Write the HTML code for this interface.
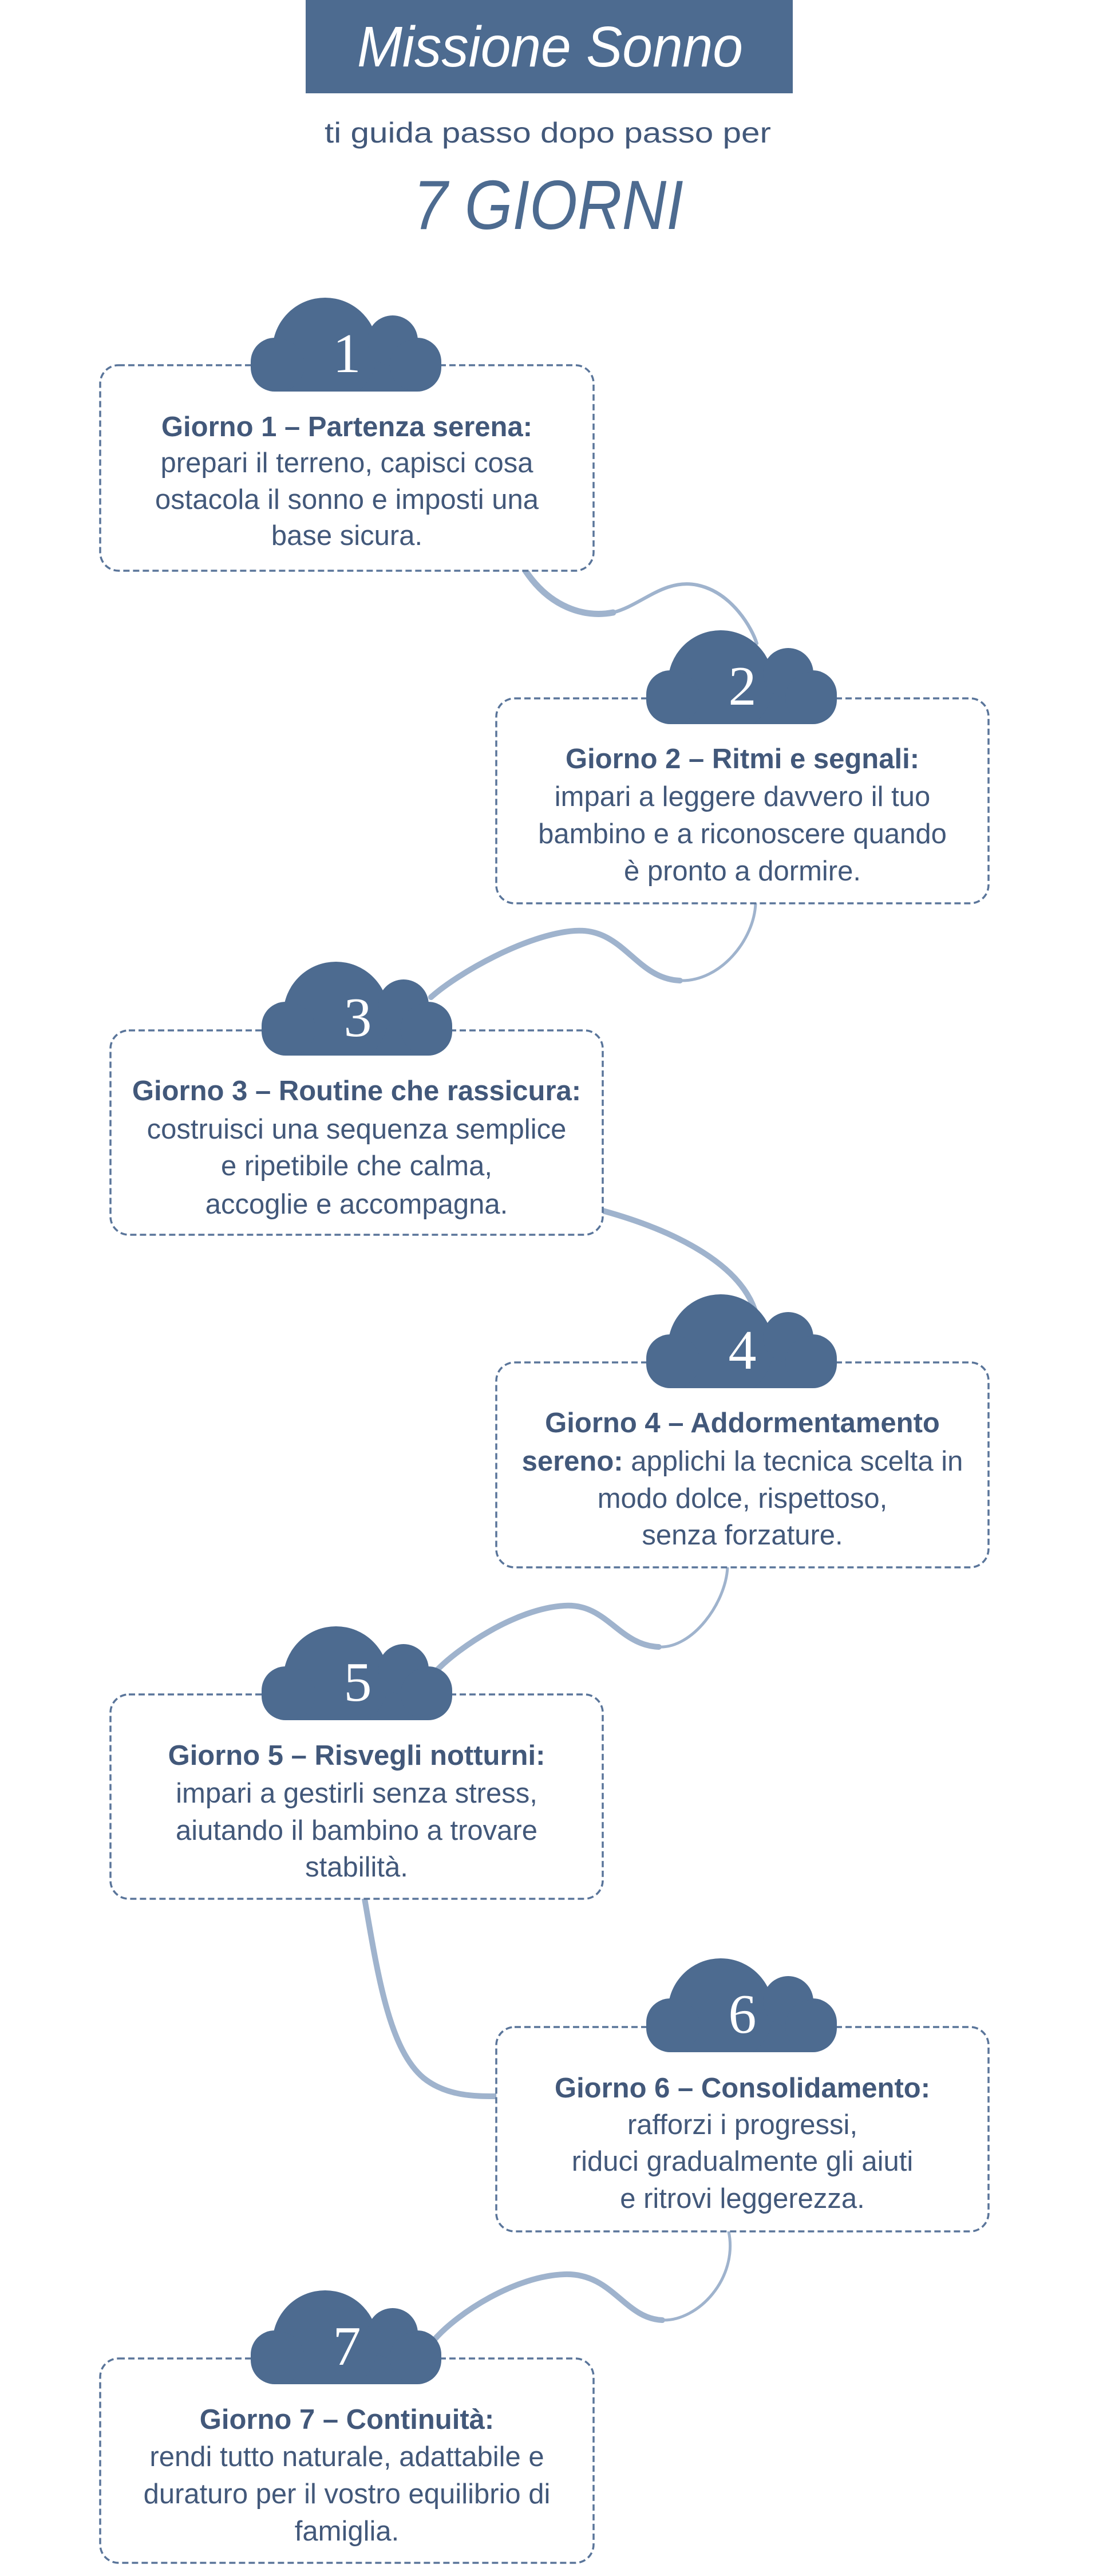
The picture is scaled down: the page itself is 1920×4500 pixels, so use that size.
<!DOCTYPE html>
<html><head><meta charset="utf-8"><style>
html,body{margin:0;padding:0;background:#fff;}
svg{display:block;}
.t{font-family:"Liberation Sans",sans-serif;font-size:49px;fill:#42587a;text-anchor:middle;}
.b{font-weight:bold;}
.n{font-family:"Liberation Serif",serif;font-size:98px;fill:#fff;text-anchor:middle;}
.c{fill:none;stroke:#9fb3cd;stroke-linecap:round;}
.card{fill:#fff;stroke:#5a759a;stroke-width:3.5;stroke-dasharray:11 6;}
</style></head><body>
<svg width="1920" height="4500" viewBox="0 0 1920 4500" xmlns="http://www.w3.org/2000/svg">
<defs>
<clipPath id="cc"><rect x="-5" y="-5" width="343" height="169"/></clipPath>
<g id="cloud" fill="#4d6b90" clip-path="url(#cc)">
<rect x="0" y="70" width="333" height="94" rx="42"/>
<circle cx="130" cy="92" r="92"/>
<circle cx="248" cy="75" r="44"/>
<circle cx="48" cy="118" r="46"/>
<circle cx="288" cy="118" r="45"/>
</g>
</defs>
<rect x="534" y="0" width="851" height="163" fill="#4d6b90"/>
<text x="961" y="116" font-family="Liberation Sans,sans-serif" font-style="italic" font-size="100" fill="#fff" text-anchor="middle" textLength="674" lengthAdjust="spacingAndGlyphs">Missione Sonno</text>
<text x="957" y="249" font-family="Liberation Sans,sans-serif" font-size="50" fill="#42587a" text-anchor="middle" textLength="780" lengthAdjust="spacingAndGlyphs">ti guida passo dopo passo per</text>
<text x="958" y="400" font-family="Liberation Sans,sans-serif" font-style="italic" font-size="122" fill="#4d6b90" text-anchor="middle" textLength="472" lengthAdjust="spacingAndGlyphs">7 GIORNI</text>

<path class="c" stroke-width="11" d="M918 997 C960 1060,1020 1080,1071 1070"/>
<path class="c" stroke-width="6" d="M1071 1070 C1120 1058,1160 1010,1218 1022 C1280 1035,1315 1100,1322 1124"/>
<path class="c" stroke-width="5" d="M1320 1578 C1318 1640,1260 1715,1188 1713"/>
<path class="c" stroke-width="10" d="M1188 1713 C1110 1710,1090 1620,1004 1626 C920 1632,800 1700,753 1742"/>
<path class="c" stroke-width="10" d="M1053 2115 C1180 2150,1300 2210,1322 2300"/>
<path class="c" stroke-width="5" d="M1271 2738 C1268 2800,1210 2880,1151 2877"/>
<path class="c" stroke-width="10" d="M1151 2877 C1080 2874,1060 2800,986 2805 C900 2810,800 2880,765 2916"/>
<path class="c" stroke-width="10" d="M637 3317 C660 3450,680 3580,740 3630 C780 3662,830 3662,867 3662"/>
<path class="c" stroke-width="5" d="M1273 3898 C1290 3980,1220 4055,1157 4053"/>
<path class="c" stroke-width="10" d="M1157 4053 C1090 4050,1070 3970,986 3973 C900 3976,800 4040,759 4087"/>

<rect class="card" x="175" y="638" width="862" height="359" rx="32"/>
<rect class="card" x="867" y="1220" width="860" height="358" rx="32"/>
<rect class="card" x="193" y="1800" width="860" height="357" rx="32"/>
<rect class="card" x="867" y="2380" width="860" height="358" rx="32"/>
<rect class="card" x="193" y="2960" width="860" height="357" rx="32"/>
<rect class="card" x="867" y="3541" width="860" height="357" rx="32"/>
<rect class="card" x="175" y="4120" width="862" height="357" rx="32"/>

<use href="#cloud" x="438" y="520"/><text class="n" x="606" y="650">1</text>
<use href="#cloud" x="1129" y="1101"/><text class="n" x="1297" y="1231">2</text>
<use href="#cloud" x="457" y="1680"/><text class="n" x="625" y="1810">3</text>
<use href="#cloud" x="1129" y="2261"/><text class="n" x="1297" y="2391">4</text>
<use href="#cloud" x="457" y="2841"/><text class="n" x="625" y="2971">5</text>
<use href="#cloud" x="1129" y="3421"/><text class="n" x="1297" y="3551">6</text>
<use href="#cloud" x="438" y="4001"/><text class="n" x="606" y="4131">7</text>

<text class="t b" x="606" y="762">Giorno 1 – Partenza serena:</text>
<text class="t" x="606" y="825">prepari il terreno, capisci cosa</text>
<text class="t" x="606" y="889">ostacola il sonno e imposti una</text>
<text class="t" x="606" y="952">base sicura.</text>

<text class="t b" x="1297" y="1342">Giorno 2 – Ritmi e segnali:</text>
<text class="t" x="1297" y="1408">impari a leggere davvero il tuo</text>
<text class="t" x="1297" y="1473">bambino e a riconoscere quando</text>
<text class="t" x="1297" y="1538">è pronto a dormire.</text>

<text class="t b" x="623" y="1922">Giorno 3 – Routine che rassicura:</text>
<text class="t" x="623" y="1989">costruisci una sequenza semplice</text>
<text class="t" x="623" y="2053">e ripetibile che calma,</text>
<text class="t" x="623" y="2120">accoglie e accompagna.</text>

<text class="t b" x="1297" y="2502">Giorno 4 – Addormentamento</text>
<text class="t" x="1297" y="2569"><tspan class="b">sereno:</tspan> applichi la tecnica scelta in</text>
<text class="t" x="1297" y="2634">modo dolce, rispettoso,</text>
<text class="t" x="1297" y="2698">senza forzature.</text>

<text class="t b" x="623" y="3083">Giorno 5 – Risvegli notturni:</text>
<text class="t" x="623" y="3149">impari a gestirli senza stress,</text>
<text class="t" x="623" y="3214">aiutando il bambino a trovare</text>
<text class="t" x="623" y="3278">stabilità.</text>

<text class="t b" x="1297" y="3664">Giorno 6 – Consolidamento:</text>
<text class="t" x="1297" y="3728">rafforzi i progressi,</text>
<text class="t" x="1297" y="3792">riduci gradualmente gli aiuti</text>
<text class="t" x="1297" y="3857">e ritrovi leggerezza.</text>

<text class="t b" x="606" y="4243">Giorno 7 – Continuità:</text>
<text class="t" x="606" y="4308">rendi tutto naturale, adattabile e</text>
<text class="t" x="606" y="4373">duraturo per il vostro equilibrio di</text>
<text class="t" x="606" y="4438">famiglia.</text>
</svg>
</body></html>
